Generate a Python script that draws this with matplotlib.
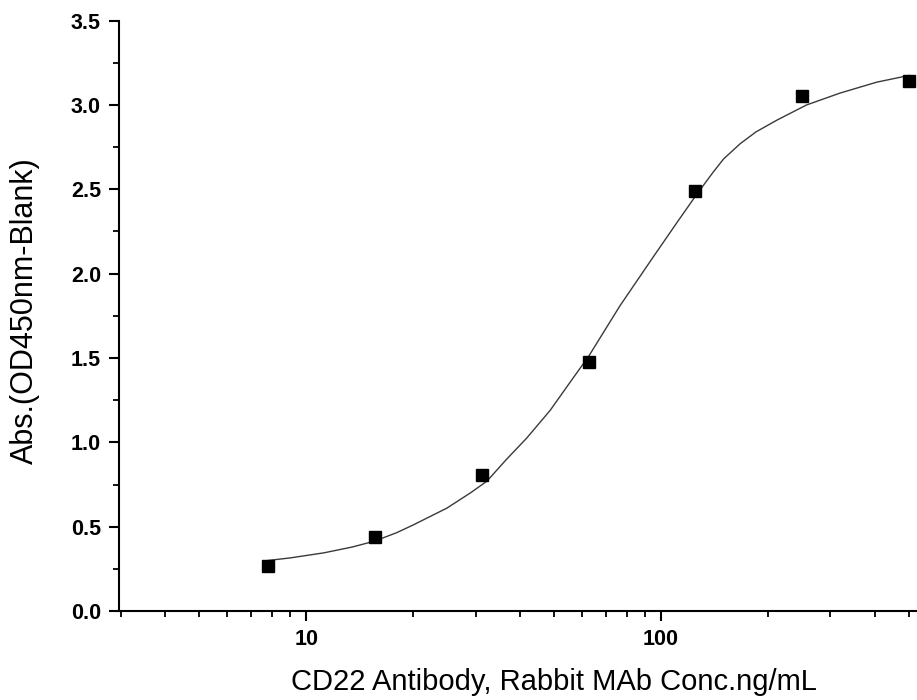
import numpy as np
import matplotlib
matplotlib.use("Agg")
import matplotlib.pyplot as plt
from matplotlib.ticker import LogLocator, FixedLocator, MultipleLocator, NullFormatter

plt.rcParams['font.family'] = ['Liberation Sans', 'DejaVu Sans']

# measured points
conc = [7.8125, 15.625, 31.25, 62.5, 125, 250, 500]
od450 = [0.267, 0.437, 0.805, 1.478, 2.487, 3.052, 3.141]

# fitted curve
fit_conc = [7.8, 9.0, 11.2, 13.5, 15.6, 18.0, 20.0, 24.9, 29.0, 32.3, 36.7, 41.8,
            48.7, 56.0, 62.5, 76.6, 95.1, 110.6, 125, 140, 150, 167, 185, 212,
            257, 319, 405, 500]
fit_od = [0.30, 0.315, 0.345, 0.38, 0.415, 0.465, 0.51, 0.61, 0.70, 0.77, 0.90,
          1.025, 1.19, 1.37, 1.51, 1.81, 2.10, 2.30, 2.46, 2.60, 2.68, 2.77, 2.84,
          2.91, 3.00, 3.07, 3.135, 3.175]

xlabel = "CD22 Antibody, Rabbit MAb Conc.ng/mL"
ylabel = "Abs.(OD450nm-Blank)"

fig = plt.figure(figsize=(9.17, 7.0), dpi=100)
ax = fig.add_axes([0.1298, 0.127, 0.8702, 0.8436])

ax.plot(fit_conc, fit_od, '-', color='#3a3a3a', lw=1.0, zorder=2)
ax.plot(conc, od450, 's', color='black', ms=8.5, zorder=3)

ax.set_xscale('log')
ax.set_xlim(2.97, 526)
ax.set_ylim(0, 3.5)

ax.xaxis.set_major_locator(FixedLocator([10, 100]))
ax.xaxis.set_minor_locator(LogLocator(base=10, subs=np.arange(2, 10)))
ax.xaxis.set_minor_formatter(NullFormatter())
ax.set_xticklabels(['10', '100'])
ax.yaxis.set_major_locator(MultipleLocator(0.5))
ax.yaxis.set_minor_locator(MultipleLocator(0.25))
ax.yaxis.set_major_formatter(plt.FormatStrFormatter('%.1f'))

for s in ['top', 'right']:
    ax.spines[s].set_visible(False)
for s in ['left', 'bottom']:
    ax.spines[s].set_linewidth(1.5)

ax.tick_params(which='major', direction='out', length=7, width=1.5, pad=6,
               labelsize=15.5)
ax.tick_params(which='minor', direction='out', length=4, width=1.3)
for lab in ax.get_xticklabels() + ax.get_yticklabels():
    lab.set_fontweight('bold')

ax.set_xlabel(xlabel, fontsize=21)
ax.set_ylabel(ylabel, fontsize=22)
ax.xaxis.set_label_coords(0.545, -0.0965)
ax.yaxis.set_label_coords(-0.099, 0.509)

fig.savefig('out.png', dpi=100)
